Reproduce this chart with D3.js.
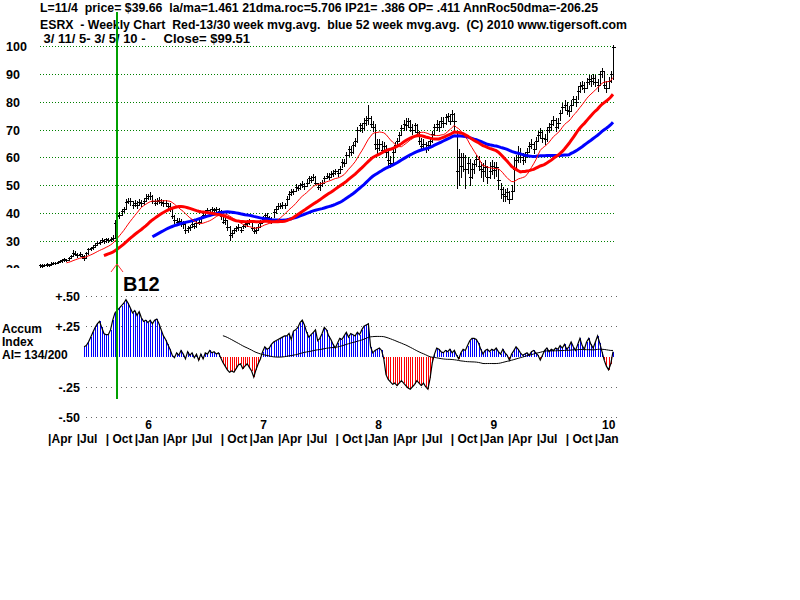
<!DOCTYPE html>
<html><head><meta charset="utf-8">
<script src="https://cdn.jsdelivr.net/npm/d3@7/dist/d3.min.js"></script>
<style>body{margin:0;background:#fff}svg{display:block}text{font-family:"Liberation Sans",Arial,sans-serif;font-weight:bold}</style>
</head><body>
<svg id="c" width="800" height="600"></svg>
<script>
// ---------- DATA ----------
const startDate = new Date(2005, 2, 11);   // first weekly bar
const endDate = new Date(2010, 2, 5);      // last weekly bar
const signalDate = new Date(2005, 10, 11); // B12 signal
const headerLines = [
  "L=11/4  price= $39.66  la/ma=1.461 21dma.roc=5.706 IP21= .386 OP= .411 AnnRoc50dma=-206.25",
  "ESRX  - Weekly Chart  Red-13/30 week mvg.avg.  blue 52 week mvg.avg.  (C) 2010 www.tigersoft.com",
  " 3/ 11/ 5- 3/ 5/ 10 -     Close= $99.51"
];
const highs = [
  21.8,21.7,21.9,22.0,21.9,22.3,22.6,22.5,23.0,23.2,
  23.5,23.8,23.7,24.2,25.0,26.6,26.3,25.8,25.9,25.5,
  24.8,26.0,27.5,27.9,28.5,29.2,29.9,30.3,31.0,30.8,
  31.2,31.0,31.5,32.0,37.5,40.0,40.3,41.5,42.3,45.0,
  45.3,45.5,44.5,44.8,44.2,45.2,44.6,45.5,46.8,47.0,
  47.5,46.5,45.0,45.3,45.8,45.2,44.6,44.8,43.8,43.5,
  42.0,39.5,38.3,38.4,38.0,37.2,36.5,35.5,35.8,36.8,
  36.5,37.2,37.8,39.0,40.2,41.2,42.0,41.5,42.3,42.0,
  42.2,41.8,41.0,39.0,38.5,37.5,35.5,34.0,34.8,35.5,
  36.0,35.2,36.2,37.0,37.5,37.8,37.0,35.0,35.0,36.0,
  37.5,39.0,40.2,40.0,38.8,38.5,41.5,42.5,43.5,43.8,
  44.0,43.8,46.0,48.0,48.5,48.8,50.5,50.2,51.0,51.5,
  51.0,52.2,53.5,53.5,54.0,53.2,51.0,51.2,52.0,53.5,
  54.5,54.5,55.2,55.5,56.0,56.0,57.0,59.5,59.5,62.0,
  64.0,64.0,65.5,67.0,71.0,72.5,72.5,74.0,75.0,78.8,
  75.0,73.0,72.0,66.5,66.5,66.0,65.5,64.5,63.0,60.5,
  63.0,65.5,67.0,69.0,71.5,73.5,74.0,74.0,73.5,72.0,
  72.5,72.0,69.5,67.0,66.5,65.5,66.0,67.0,69.5,72.0,
  73.5,73.0,74.5,74.5,75.5,76.0,75.5,77.0,76.0,69.0,
  63.0,61.5,61.5,61.0,60.0,59.5,58.0,59.0,61.0,60.5,
  58.5,58.0,59.0,57.0,58.5,59.0,58.5,58.5,56.0,51.0,
  49.5,48.5,49.0,48.0,50.0,60.0,61.0,64.0,63.5,61.5,
  62.0,63.5,65.5,66.5,65.5,67.5,69.5,70.5,70.0,68.5,
  71.0,72.5,73.5,75.0,74.0,74.0,77.0,79.5,80.5,80.0,
  78.5,80.5,82.0,82.0,85.5,87.0,87.5,87.0,88.5,89.5,
  89.5,90.0,89.5,88.0,91.0,92.0,91.0,87.5,89.0,91.0,
  100.5
];
const lows = [
  20.8,20.8,21.0,21.1,21.0,21.3,21.7,21.6,22.0,22.3,
  22.6,22.9,22.7,23.2,23.8,24.9,24.8,24.4,24.6,24.0,
  23.1,23.9,25.5,26.6,27.3,27.8,28.5,29.0,29.6,29.4,
  29.8,29.6,30.0,30.5,31.0,37.4,38.3,39.5,40.5,42.0,
  43.5,43.0,41.8,42.5,41.8,42.8,42.4,43.2,44.5,45.0,
  45.0,43.8,42.8,43.2,43.7,43.0,42.4,42.5,41.5,40.8,
  38.2,36.5,36.0,36.0,35.5,34.5,33.0,33.2,34.0,35.0,
  34.8,35.2,36.2,37.0,38.5,39.5,40.0,39.8,40.5,40.0,
  40.5,40.0,38.0,36.5,36.0,34.0,30.4,31.5,33.0,33.5,
  34.0,33.2,34.5,35.0,35.5,36.0,34.0,32.8,33.0,34.2,
  35.5,36.8,38.5,37.8,36.8,36.5,38.5,40.2,41.5,41.8,
  42.0,41.8,43.0,45.5,46.5,47.0,48.0,48.2,48.8,49.5,
  48.8,49.8,51.0,51.2,51.8,50.5,48.8,48.3,49.8,51.5,
  52.5,52.3,52.8,53.5,54.0,53.5,54.5,56.5,57.0,58.5,
  60.5,61.0,61.5,64.0,65.5,69.5,69.0,70.0,71.5,72.0,
  71.0,69.5,63.0,61.6,62.5,61.5,62.0,60.0,57.0,56.5,
  58.5,62.0,64.0,66.0,68.0,70.0,70.0,71.0,69.5,68.5,
  69.0,68.0,65.0,62.5,63.0,62.0,62.5,64.0,65.5,68.0,
  70.0,69.5,71.0,71.0,72.0,73.0,72.0,73.5,69.0,49.0,
  50.0,53.0,55.0,49.0,54.5,50.0,52.5,54.5,57.0,55.5,
  53.0,51.5,53.5,51.0,52.5,54.0,52.5,53.5,48.5,45.5,
  44.5,44.5,45.0,43.7,45.0,48.0,56.0,58.5,58.5,57.5,
  58.5,60.0,62.0,63.5,61.5,63.5,66.0,67.0,65.5,65.0,
  66.0,69.0,70.0,71.5,69.5,70.5,73.5,76.0,77.0,75.5,
  75.0,76.5,79.0,78.5,81.0,83.5,84.5,83.5,85.0,86.5,
  85.5,86.5,85.5,84.0,86.5,89.0,85.0,83.5,85.0,87.0,
  88.0
];
const closes = [
  21.3,21.2,21.5,21.6,21.4,21.9,22.2,22.0,22.6,22.8,
  23.1,23.4,23.2,23.8,24.5,25.8,25.5,25.0,25.4,24.6,
  23.8,25.6,27.0,27.4,28.0,28.6,29.3,29.8,30.4,30.0,
  30.6,30.2,30.8,31.2,36.5,38.8,39.5,40.6,41.5,44.0,
  44.5,44.2,43.0,43.8,42.8,44.0,43.5,44.5,45.5,46.0,
  46.2,44.5,43.8,44.3,44.8,44.0,43.5,43.8,42.5,42.0,
  39.0,37.5,37.0,37.2,36.5,36.0,34.0,34.5,35.0,36.0,
  35.5,36.5,37.0,38.5,39.5,40.5,41.0,40.5,41.5,41.0,
  41.5,40.8,39.0,37.0,37.5,35.0,32.0,33.0,34.0,34.5,
  35.0,34.0,35.5,36.0,36.5,37.0,34.5,33.5,34.0,35.0,
  36.5,38.0,39.5,38.5,37.5,37.5,40.5,41.5,42.5,42.5,
  43.0,42.8,45.0,47.0,47.5,48.0,49.5,49.0,50.0,50.5,
  49.8,51.0,52.5,52.0,53.0,51.0,49.5,50.0,51.0,52.5,
  53.5,53.0,54.0,54.5,55.0,54.5,56.0,58.5,58.0,61.0,
  63.0,62.0,64.5,66.0,70.0,71.5,70.5,72.5,73.5,74.0,
  72.0,71.0,65.0,63.5,65.0,62.5,64.0,62.0,59.0,58.0,
  62.0,64.5,66.0,68.0,70.5,72.0,71.5,73.0,71.0,70.0,
  71.5,69.0,66.0,64.0,65.0,63.5,64.5,66.0,68.5,71.0,
  72.0,71.0,73.0,72.5,74.5,75.0,73.0,75.5,73.0,55.0,
  60.0,57.0,60.0,56.0,58.0,53.0,56.0,57.5,59.5,57.0,
  56.0,55.0,56.5,53.0,55.0,57.0,55.5,56.5,52.0,48.5,
  47.0,46.0,47.5,45.0,48.0,56.0,59.0,61.5,60.0,59.0,
  60.5,62.0,64.0,65.0,63.0,66.0,68.0,69.0,67.0,66.5,
  70.0,71.0,72.0,73.5,71.0,72.5,76.0,78.0,79.0,77.0,
  76.5,79.0,81.0,80.0,84.0,85.5,86.0,85.0,87.0,88.0,
  87.5,88.5,87.0,86.0,90.0,91.0,86.0,85.0,87.5,90.0,
  99.5
];
const aiStartWeek = 20;
const accumIndex = [
  0.08,0.09,0.12,0.16,0.20,0.24,0.27,0.29,0.24,0.19,
  0.18,0.18,0.22,0.30,0.36,0.38,0.40,0.42,0.44,0.47,
  0.44,0.40,0.36,0.38,0.34,0.37,0.32,0.29,0.30,0.28,
  0.30,0.27,0.30,0.31,0.27,0.22,0.17,0.14,0.10,0.06,
  0.01,-0.01,0.03,0.01,0.05,0.02,-0.02,0.04,0.01,0.03,
  -0.01,0.02,-0.03,0.02,-0.02,0.03,0.02,0.05,0.03,0.04,
  0.02,0.03,-0.01,-0.05,-0.08,-0.11,-0.13,-0.12,-0.13,-0.10,
  -0.07,-0.06,-0.10,-0.08,-0.06,-0.09,-0.12,-0.17,-0.11,-0.06,
  -0.02,0.04,0.08,0.06,0.07,0.10,0.12,0.13,0.14,0.15,
  0.16,0.17,0.17,0.19,0.14,0.21,0.22,0.24,0.28,0.30,
  0.26,0.20,0.16,0.18,0.20,0.22,0.13,0.15,0.19,0.24,
  0.22,0.17,0.14,0.10,0.07,0.11,0.15,0.14,0.17,0.20,
  0.16,0.19,0.18,0.17,0.20,0.18,0.22,0.25,0.26,0.27,
  0.08,0.03,0.05,0.06,0.07,0.05,-0.02,-0.15,-0.19,-0.21,
  -0.23,-0.22,-0.24,-0.22,-0.20,-0.22,-0.24,-0.26,-0.27,-0.25,
  -0.23,-0.20,-0.22,-0.24,-0.22,-0.25,-0.27,-0.18,-0.05,0.02,
  0.07,0.06,0.04,0.03,0.05,0.04,0.06,0.03,0.05,0.01,
  -0.02,0.03,0.06,0.05,0.09,0.13,0.15,0.15,0.14,0.11,
  0.06,0.02,0.05,0.06,0.04,0.06,0.05,0.07,0.04,0.02,
  0.06,0.03,0.01,-0.03,0.02,0.05,0.08,0.06,0.03,0.01,
  0.02,0.03,0.01,0.04,0.05,0.03,0.01,-0.03,0.01,0.05,
  0.07,0.04,0.06,0.05,0.07,0.06,0.09,0.07,0.10,0.06,
  0.08,0.12,0.08,0.05,0.10,0.15,0.09,0.06,0.12,0.15,
  0.10,0.07,0.12,0.17,0.11,0.04,-0.03,-0.08,-0.11,-0.06,
  0.04
];
const aiMaStartWeek = 83;
const maShort = 13, maMid = 30, maLong = 52, aiMaLen = 52;
const priceTicks = [20,30,40,50,60,70,80,90,100];
const aiTicks = [0.5,0.25,-0.25,-0.5];
const aiTickLabels = ["+.50","+.25","-.25","-.50"];
const monthLabels = {0:"|Jan",3:"|Apr",6:"|Jul",9:"| Oct"};
const aiLabelLines = ["Accum","Index","AI= 134/200"];
const signalLabel = "B12";

// ---------- CHART ----------
const svg = d3.select("#c");
const FONT = '"Liberation Sans",Arial,sans-serif';
const weeks = closes.map((_, i) => d3.timeDay.offset(startDate, 7 * i));
const x = d3.scaleTime().domain([startDate, endDate]).range([40, 613]);
const yP = d3.scaleLinear().domain([30, 100]).range([241, 46]);
const yA = d3.scaleLinear().domain([-0.5, 0.5]).range([417, 296]);
const px = d => Math.round(x(d)) + 0.5;

// header
headerLines.forEach((t, i) => {
  svg.append("text").attr("x", 40).attr("y", [12, 29, 43][i])
    .attr("font-size", 12).style("white-space", "pre")
    .attr("textLength", [558, 587, 210][i]).attr("lengthAdjust", "spacingAndGlyphs")
    .text(t);
});

// clip for price panel
svg.append("clipPath").attr("id", "pclip").append("rect")
  .attr("x", 0).attr("y", 38).attr("width", 640).attr("height", 230);
const pg = svg.append("g").attr("clip-path", "url(#pclip)");

// price gridlines
const gridAxis = d3.axisLeft(yP).tickValues(priceTicks).tickSize(-576).tickFormat("");
const gg = pg.append("g").attr("transform", "translate(40,0)").call(gridAxis);
gg.select(".domain").remove();
gg.selectAll("line").attr("stroke", "#008000").attr("stroke-dasharray", "1,2")
  .attr("shape-rendering", "crispEdges");

// price labels
const labAxis = d3.axisRight(yP).tickValues(priceTicks).tickSize(0).tickPadding(0).tickFormat(d3.format("d"));
const lg = pg.append("g").attr("transform", "translate(6,0)").call(labAxis);
lg.select(".domain").remove();
lg.selectAll("text").attr("font-size", 12.5).attr("fill", "#000")
  .attr("font-family", FONT).attr("font-weight", "bold").attr("dy", "0.36em");

// price bars
const bars = pg.append("g").attr("stroke", "#000").attr("stroke-width", 1).attr("shape-rendering", "crispEdges");
closes.forEach((c, i) => {
  const xi = px(weeks[i]);
  bars.append("line").attr("x1", xi).attr("x2", xi)
    .attr("y1", Math.round(yP(highs[i]))).attr("y2", Math.round(yP(lows[i])) + 1);
  const yc = Math.round(yP(c)) + 0.5;
  bars.append("line").attr("x1", xi - 1.5).attr("x2", xi + 2).attr("y1", yc).attr("y2", yc);
});

// moving averages
function sma(arr, n, offset) {
  const out = [];
  for (let i = n - 1; i < arr.length; i++) {
    out.push({ i: i + offset, v: d3.mean(arr.slice(i - n + 1, i + 1)) });
  }
  return out;
}
const line = d3.line().x(d => x(weeks[d.i])).y(d => yP(d.v));
pg.append("path").datum(sma(closes, maLong, 0)).attr("d", line)
  .attr("fill", "none").attr("stroke", "#0000ff").attr("stroke-width", 3);
pg.append("path").datum(sma(closes, maMid, 0)).attr("d", line)
  .attr("fill", "none").attr("stroke", "#ff0000").attr("stroke-width", 3);
pg.append("path").datum(sma(closes, maShort, 0)).attr("d", line)
  .attr("fill", "none").attr("stroke", "#ff0000").attr("stroke-width", 1);

// indicator gridlines
const aGrid = d3.axisLeft(yA).tickValues(aiTicks).tickSize(-535).tickFormat("");
const ag = svg.append("g").attr("transform", "translate(86,0)").call(aGrid);
ag.select(".domain").remove();
ag.selectAll("line").attr("stroke", "#666").attr("stroke-dasharray", "1,4").attr("shape-rendering", "crispEdges");

const aLab = d3.axisLeft(yA).tickValues(aiTicks).tickSize(0).tickPadding(0)
  .tickFormat((d, i) => aiTickLabels[i]);
const alg = svg.append("g").attr("transform", "translate(80,0)").call(aLab);
alg.select(".domain").remove();
alg.selectAll("text").attr("font-size", 12.5).attr("fill", "#000")
  .attr("font-family", FONT).attr("font-weight", "bold").attr("dy", "0.36em");

// AI bars
const aiPts = accumIndex.map((v, k) => ({ i: k + aiStartWeek, v }));
const y0 = Math.round(yA(0));
const ab = svg.append("g").attr("stroke-width", 1).attr("shape-rendering", "crispEdges");
aiPts.forEach(d => {
  const xi = px(weeks[d.i]);
  ab.append("line").attr("x1", xi).attr("x2", xi)
    .attr("y1", y0).attr("y2", yA(d.v))
    .attr("stroke", d.v >= 0 ? "#0000ff" : "#ff0000");
});
const aLine = d3.line().x(d => x(weeks[d.i])).y(d => yA(d.v));
svg.append("path").datum(aiPts).attr("d", aLine)
  .attr("fill", "none").attr("stroke", "#000").attr("stroke-width", 1.2);
const aiMa = sma(accumIndex, aiMaLen, aiStartWeek).filter(d => d.i >= aiMaStartWeek);
svg.append("path").datum(aiMa).attr("d", aLine)
  .attr("fill", "none").attr("stroke", "#000").attr("stroke-width", 1);

// AI side label
aiLabelLines.forEach((t, i) => {
  svg.append("text").attr("x", 2).attr("y", [333, 346, 359][i]).attr("font-size", 12).text(t);
});

// signal line, arrow, label
const sx = Math.round(x(signalDate));
svg.append("line").attr("x1", sx).attr("x2", sx).attr("y1", 12).attr("y2", 399)
  .attr("stroke", "#00a000").attr("stroke-width", 2).attr("shape-rendering", "crispEdges");
svg.append("path").attr("d", `M${sx - 6},272 L${sx},264 L${sx + 6},272`)
  .attr("fill", "none").attr("stroke", "#ff3030").attr("stroke-width", 1);
svg.append("text").attr("x", sx + 6).attr("y", 291).attr("font-size", 20).text(signalLabel);

// bottom time axis: quarters
const quarters = d3.timeMonth.every(3).range(d3.timeDay.offset(startDate, 1), endDate);
const qAxis = d3.axisBottom(x).tickValues(quarters).tickSize(0).tickPadding(0)
  .tickFormat(d => monthLabels[d.getMonth()]);
const qg = svg.append("g").attr("transform", "translate(0,432)").call(qAxis);
qg.select(".domain").remove();
qg.selectAll("text").attr("font-size", 12).attr("fill", "#000").attr("text-anchor", "start")
  .attr("font-family", FONT).attr("font-weight", "bold")
  .style("white-space", "pre").attr("dx", 1).attr("dy", 0).attr("y", 11);

// year labels
const janDates = quarters.filter(d => d.getMonth() === 0);
const yAxis = d3.axisBottom(x).tickValues(janDates).tickSize(0).tickPadding(0)
  .tickFormat(d => String(d.getFullYear() % 100));
const yg = svg.append("g").attr("transform", "translate(0,418)").call(yAxis);
yg.select(".domain").remove();
yg.selectAll("text").attr("font-size", 12).attr("fill", "#000")
  .attr("font-family", FONT).attr("font-weight", "bold")
  .attr("dx", 15).attr("dy", 0).attr("y", 11);
</script>
</body></html>
